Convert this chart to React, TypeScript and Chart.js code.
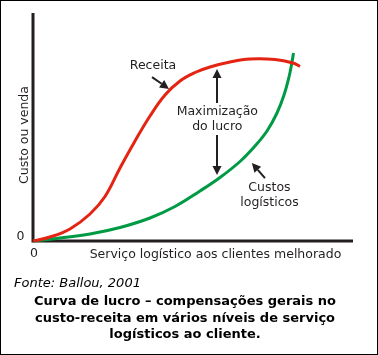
import React, { useEffect, useRef } from 'react';
import { Chart, registerables } from 'chart.js';
Chart.register(...registerables);

// ---- data (service level 0-100, cost/revenue 0-100) ----
const receitaX = [0, 5.31, 11.56, 17.81, 22.5, 27.19, 31.88, 36.56, 41.25, 45.94, 50.63, 55.31, 61.56, 67.81, 75.63, 81.25, 83.44];
const receitaY = [0, 1.75, 5.26, 11.84, 19.5, 32.02, 43.86, 54.82, 64.04, 70.18, 73.9, 76.32, 78.51, 79.82, 79.61, 78.07, 76.54];
const custosX = [0, 8.44, 17.81, 27.19, 36.56, 44.38, 52.19, 58.44, 64.69, 69.38, 73.13, 76.25, 78.44, 80.0, 80.94, 81.41];
const custosY = [0, 1.32, 3.07, 5.92, 10.09, 15.13, 21.93, 27.85, 34.87, 41.67, 48.25, 56.14, 64.04, 71.93, 78.51, 82.46];

const xTickLabels = ['0'];
const yTickLabels = ['0'];
const xTitle = 'Serviço logístico aos clientes melhorado';
const yTitle = 'Custo ou venda';
const sourceText = 'Fonte: Ballou, 2001';
const captionLines = [
  'Curva de lucro – compensações gerais no',
  'custo-receita em vários níveis de serviço',
  'logísticos ao cliente.',
];

// annotations in data units
const receitaLabel = { text: 'Receita', x: 37.5, y: 77.0 };
const receitaArrow = { x1: 37.2, y1: 71.9, x2: 42.5, y2: 66.7 };
const maxLabel = { lines: ['Maximização', 'do lucro'], x: 57.6, y1: 56.6, y2: 50.0 };
const maxArrowUp = { x: 57.5, y1: 60.5, y2: 75.4 };
const maxArrowDown = { x: 57.5, y1: 46.5, y2: 28.9 };
const custosLabel = { lines: ['Custos', 'logísticos'], x: 73.9, y1: 23.2, y2: 16.9 };
const custosArrow = { x1: 72.5, y1: 27.6, x2: 68.4, y2: 34.2 };

const FONT = '"DejaVu Sans", Verdana, sans-serif';
const INK = '#231f20';

function arrow(ctx: CanvasRenderingContext2D, x1: number, y1: number, x2: number, y2: number) {
  const ang = Math.atan2(y2 - y1, x2 - x1);
  const head = 9;
  const hw = 4.5;
  const bx = x2 - Math.cos(ang) * head;
  const by = y2 - Math.sin(ang) * head;
  ctx.save();
  ctx.strokeStyle = INK;
  ctx.fillStyle = INK;
  ctx.lineWidth = 2;
  ctx.beginPath();
  ctx.moveTo(x1, y1);
  ctx.lineTo(bx, by);
  ctx.stroke();
  ctx.beginPath();
  ctx.moveTo(x2, y2);
  ctx.lineTo(bx - Math.sin(ang) * hw, by + Math.cos(ang) * hw);
  ctx.lineTo(bx + Math.sin(ang) * hw, by - Math.cos(ang) * hw);
  ctx.closePath();
  ctx.fill();
  ctx.restore();
}

const decor = {
  id: 'decor',
  beforeDraw(chart: any) {
    const ctx = chart.ctx as CanvasRenderingContext2D;
    ctx.save();
    ctx.fillStyle = '#fff';
    ctx.fillRect(0, 0, chart.width, chart.height);
    ctx.restore();
  },
  beforeDatasetsDraw(chart: any) {
    const ctx = chart.ctx as CanvasRenderingContext2D;
    const xs = chart.scales.x;
    const ys = chart.scales.y;
    const x0 = xs.getPixelForValue(0);
    const y0 = ys.getPixelForValue(0);
    ctx.save();
    ctx.strokeStyle = INK;
    ctx.lineWidth = 3;
    ctx.beginPath();
    ctx.moveTo(x0, ys.getPixelForValue(100));
    ctx.lineTo(x0, y0);
    ctx.lineTo(xs.getPixelForValue(100), y0);
    ctx.stroke();
    ctx.restore();
  },
  afterDraw(chart: any) {
    const ctx = chart.ctx as CanvasRenderingContext2D;
    const xs = chart.scales.x;
    const ys = chart.scales.y;
    const px = (v: number) => xs.getPixelForValue(v);
    const py = (v: number) => ys.getPixelForValue(v);
    ctx.save();
    ctx.fillStyle = INK;
    ctx.font = `12.5px ${FONT}`;
    ctx.textBaseline = 'middle';
    ctx.textAlign = 'center';
    // tick zeros
    ctx.fillText(yTickLabels[0], px(0) - 12.5, py(0) - 4.5);
    ctx.fillText(xTickLabels[0], px(0) + 1, py(0) + 12.5);
    // annotation labels
    ctx.fillText(receitaLabel.text, px(receitaLabel.x), py(receitaLabel.y));
    ctx.fillText(maxLabel.lines[0], px(maxLabel.x), py(maxLabel.y1));
    ctx.fillText(maxLabel.lines[1], px(maxLabel.x), py(maxLabel.y2));
    ctx.fillText(custosLabel.lines[0], px(custosLabel.x), py(custosLabel.y1));
    ctx.fillText(custosLabel.lines[1], px(custosLabel.x), py(custosLabel.y2));
    // arrows
    arrow(ctx, px(receitaArrow.x1), py(receitaArrow.y1), px(receitaArrow.x2), py(receitaArrow.y2));
    arrow(ctx, px(maxArrowUp.x), py(maxArrowUp.y1), px(maxArrowUp.x), py(maxArrowUp.y2));
    arrow(ctx, px(maxArrowDown.x), py(maxArrowDown.y1), px(maxArrowDown.x), py(maxArrowDown.y2));
    arrow(ctx, px(custosArrow.x1), py(custosArrow.y1), px(custosArrow.x2), py(custosArrow.y2));
    // axis titles
    ctx.textBaseline = 'alphabetic';
    ctx.fillText(xTitle, 215.5, 258);
    ctx.save();
    ctx.translate(27.5, 135);
    ctx.rotate(-Math.PI / 2);
    ctx.fillText(yTitle, 0, 0);
    ctx.restore();
    // caption
    ctx.fillStyle = '#000';
    ctx.textAlign = 'left';
    ctx.font = `oblique 13px ${FONT}`;
    ctx.fillText(sourceText, 14, 287);
    ctx.textAlign = 'center';
    ctx.font = `bold 13px ${FONT}`;
    const bases = [305, 321.5, 338];
    captionLines.forEach((l, i) => ctx.fillText(l, 185, bases[i]));
    // frame
    ctx.strokeStyle = '#000';
    ctx.lineWidth = 1;
    ctx.strokeRect(0.5, 0.5, chart.width - 1, chart.height - 1);
    ctx.restore();
  },
};

export default function App() {
  const ref = useRef<HTMLCanvasElement>(null);
  useEffect(() => {
    document.body.style.margin = '0';
    const chart = new Chart(ref.current!, {
      type: 'line',
      data: {
        datasets: [
          {
            label: 'Receita',
            data: receitaX.map((x, i) => ({ x, y: receitaY[i] })),
            borderColor: '#e42313',
            borderWidth: 3,
            pointRadius: 0,
            tension: 0.4,
            fill: false,
            clip: false as any,
          },
          {
            label: 'Custos logísticos',
            data: custosX.map((x, i) => ({ x, y: custosY[i] })),
            borderColor: '#009a44',
            borderWidth: 3,
            pointRadius: 0,
            tension: 0.4,
            fill: false,
            clip: false as any,
          },
        ],
      },
      options: {
        animation: false,
        responsive: false,
        events: [],
        layout: { padding: { left: 33, top: 13, right: 25, bottom: 114 } },
        plugins: { legend: { display: false }, tooltip: { enabled: false }, title: { display: false } },
        scales: {
          x: { type: 'linear', min: 0, max: 100, display: false },
          y: { type: 'linear', min: 0, max: 100, display: false },
        },
      },
      plugins: [decor],
    });
    return () => chart.destroy();
  }, []);
  return (
    <div style={{ position: 'absolute', left: 0, top: 0, width: 378, height: 355 }}>
      <canvas ref={ref} width={378} height={355} style={{ display: 'block' }} />
    </div>
  );
}
